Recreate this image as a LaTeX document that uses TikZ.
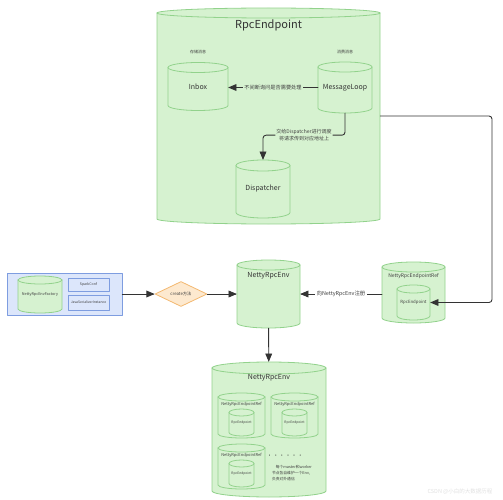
\documentclass[tikz,border=0pt]{standalone}
\usepackage{fontspec}
\setmainfont{Noto Sans CJK SC}
\usetikzlibrary{arrows,shapes.geometric,positioning}
\definecolor{cylfill}{HTML}{D6F2D0}
\definecolor{cylline}{HTML}{92D28C}
\definecolor{boxfill}{HTML}{DCE6FB}
\definecolor{boxline}{HTML}{7E9DE0}
\definecolor{decfill}{HTML}{FDE9CF}
\definecolor{decline}{HTML}{F3B870}
\definecolor{linkc}{HTML}{333333}
\tikzset{
  cylshape/.style={draw=cylline,fill=cylfill,line width=0.8pt},
  boxy/.style={rectangle,draw=boxline,fill=boxfill,line width=0.8pt,inner sep=0pt,text=black!75},
  link/.style={draw=linkc,line width=0.9pt},
  fsize/.style={font=\fontsize{#1}{#1}\selectfont},
  flines/.style 2 args={font=\fontsize{#1}{#2}\selectfont}
}
% cylinder: [node options]{name}{centre x}{centre y}{width}{height}{end radius}{text}
\newcommand{\cyl}[8][]{%
  \filldraw[cylshape] ({#3-#5/2},{#4-#6/2+#7}) -- ({#3-#5/2},{#4+#6/2-#7})
    arc[start angle=180,end angle=0,x radius=#5/2,y radius=#7]
    -- ({#3+#5/2},{#4-#6/2+#7})
    arc[start angle=0,end angle=-180,x radius=#5/2,y radius=#7] -- cycle;
  \draw[cylshape,fill=none] ({#3-#5/2},{#4-#6/2+#7})
    arc[start angle=180,end angle=0,x radius=#5/2,y radius=#7];
  \node[rectangle,inner sep=0pt,minimum width=#5pt,minimum height=#6pt,text=black!80,#1] (#2) at (#3,#4) {#8};%
}
\begin{document}
\begin{tikzpicture}[line cap=round,line join=round,>=triangle 45,x=1pt,y=-1pt]
\useasboundingbox (0,0) rectangle (503,500);
% RpcEndpoint
\cyl{rpc}{268.5}{116}{223}{216}{5}{}
\node[fsize=11,text=black!80] (rpctitle) at (268.5,25) {RpcEndpoint};
\cyl[fsize=7]{inbox}{198}{86.5}{60}{48}{5}{Inbox}
\cyl[fsize=7]{msgloop}{345}{87.5}{54}{51}{5}{MessageLoop}
\cyl[fsize=7]{disp}{263}{189}{54}{58}{5.5}{Dispatcher}
\node[fsize=4,text=black!75] (store) at (198,52) {存储消息};
\node[fsize=4,text=black!75] (consume) at (345,52) {消费消息};
\draw[link,->] (msgloop.west) -- node[fill=cylfill,fsize=5.2,text=black!75,inner sep=1.5pt] (ask) {不间断询问是否需要处理} (inbox.east |- msgloop.west);
\draw[link,->,rounded corners=3pt] (msgloop.south) -- ++(0,22) -| node[pos=0.25,fill=cylfill,flines={5}{7},text=black!75,align=center,inner sep=1pt] (hand) {交给Dispatcher进行调度\\将请求传到对应地址上} (disp.north);
% factory
\node[boxy,minimum width=115pt,minimum height=42pt] (envbox) at (64.5,294) {};
\cyl[fsize=3.8,text=black!75]{factory}{40}{294.5}{44}{37}{4}{NettyRpcEnvFactory}
\node[boxy,minimum width=41pt,minimum height=13pt,fsize=3.5] (conf) at (88.5,284.5) {SparkConf};
\node[boxy,minimum width=41pt,minimum height=15pt,fsize=3.4] (ser) at (88.5,302.5) {JavaSerializerInstance};
\node[diamond,draw=decline,fill=decfill,line width=0.8pt,minimum width=52pt,minimum height=20pt,inner sep=0pt,fsize=4.3,text=black!75] (create) at (181,294) {create方法};
% NettyRpcEnv
\cyl{env}{268.5}{294}{63}{68}{5}{}
\node[fsize=7,text=black!80] (envtitle) at (268.5,276) {NettyRpcEnv};
\cyl{ref}{413.5}{292.5}{63}{61}{5}{}
\node[fsize=5,text=black!75] (reftitle) at (413.5,276) {NettyRpcEndpointRef};
\cyl[fsize=4.3,text=black!75]{refep}{413.5}{302.5}{33}{35}{4}{RpcEndpoint}
\coordinate (bend) at (492,116);
\draw[link,->,rounded corners=3pt] (rpc) -- (bend) |- (refep);
\draw[link,->] (envbox) -- (create);
\draw[link,->] (create) -- (env);
\draw[link,->] (ref.west |- env) -- node[fill=white,fsize=5.4,text=black!75,inner sep=1.5pt] (reg) {向NettyRpcEnv注册} (env);
% bottom NettyRpcEnv
\cyl{envall}{269}{429.5}{114}{135}{6}{}
\node[fsize=7,text=black!80] (envalltitle) at (269,378) {NettyRpcEnv};
\draw[link,->] (env) -- (envall);
\foreach \n/\cx/\cy in {a/241.5/415.5,b/294.5/415.5,c/241.5/466.5}{
  \cyl{ref\n}{\cx}{\cy}{47}{45}{4}{}
  \node[fsize=4,text=black!75] (ref\n title) at (\cx,\cy-11) {NettyRpcEndpointRef};
  \cyl[fsize=3.3,text=black!75]{ep\n}{\cx}{\cy+7}{25}{27}{3.5}{RpcEndpoint}
}
\node[fsize=5,text=black!80] (dots) at (285,456) {\textbullet\ \textbullet\ \textbullet\ \textbullet\ \textbullet\ \textbullet};
\node[flines={3.8}{6.3},text=black!75,align=left] (note) at (292,473) {\hspace{1em}每个master和worker\\节点各自维护一个Env,\\负责对外通信};
\node[fsize=5.5,text=black!12] (mark) at (460,492) {CSDN @小白的大数据历程};
\end{tikzpicture}
\end{document}
